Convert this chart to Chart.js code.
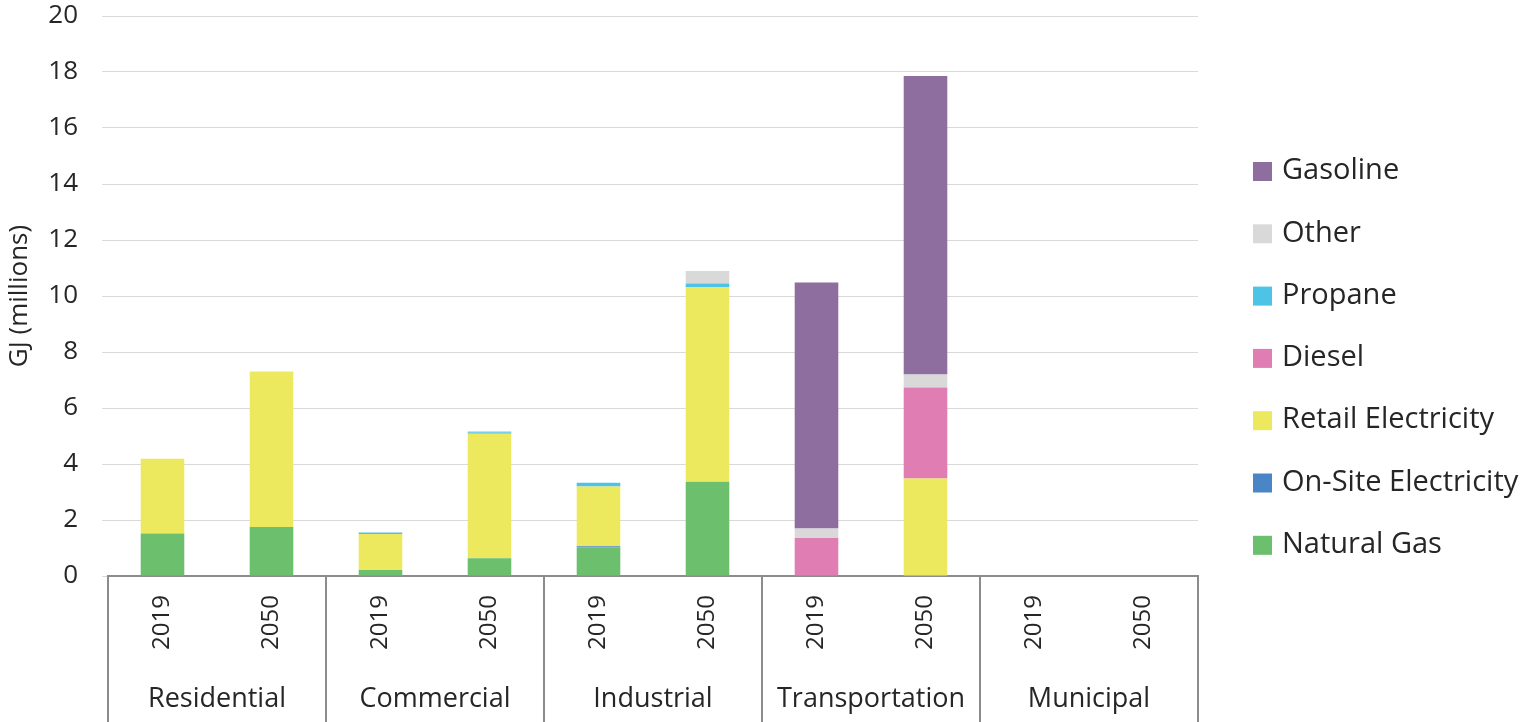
<!DOCTYPE html>
<html>
<head>
<meta charset="utf-8">
<script src="https://cdn.jsdelivr.net/npm/chart.js@4/dist/chart.umd.min.js"></script>
<style>
  html, body { margin: 0; padding: 0; background: #fff; }
  #wrap { width: 1528px; height: 722px; }
</style>
</head>
<body>
<div id="wrap"><canvas id="energia"></canvas></div>
<script>
const sectores = ['Residential', 'Commercial', 'Industrial', 'Transportation', 'Municipal'];
const etiquetas = ['2019', '2050', '2019', '2050', '2019', '2050', '2019', '2050', '2019', '2050'];

const gas_natural   = [1.52, 1.75, 0.21, 0.63, 1.02, 3.37, 0, 0, 0, 0];
const elec_sitio    = [0, 0, 0, 0, 0.04, 0, 0, 0, 0, 0];
const elec_retail   = [2.67, 5.55, 1.29, 4.45, 2.14, 6.95, 0, 3.48, 0, 0];
const diesel        = [0, 0, 0, 0, 0, 0, 1.36, 3.25, 0, 0];
const propano       = [0, 0, 0.05, 0.05, 0.13, 0.13, 0, 0, 0, 0];
const otros         = [0, 0, 0, 0.05, 0, 0.44, 0.34, 0.47, 0, 0];
const gasolina      = [0, 0, 0, 0, 0, 0, 8.78, 10.66, 0, 0];

const fuente = "'Open Sans', sans-serif";

// separadores y nombres de sector debajo del eje
const gruposEje = {
  id: 'gruposEje',
  afterDraw(chart) {
    const { ctx, chartArea, scales: { x } } = chart;
    const paso = x.getPixelForValue(1) - x.getPixelForValue(0);
    ctx.save();
    ctx.strokeStyle = '#8c8c8c';
    ctx.lineWidth = 2;
    for (let g = 0; g <= sectores.length; g++) {
      const px = Math.round(x.getPixelForValue(g * 2) - paso / 2);
      ctx.beginPath();
      ctx.moveTo(px, chartArea.bottom);
      ctx.lineTo(px, chart.height);
      ctx.stroke();
    }
    ctx.fillStyle = '#262626';
    ctx.font = '27px ' + fuente;
    ctx.textAlign = 'center';
    ctx.textBaseline = 'middle';
    sectores.forEach((s, g) => {
      const cx = (x.getPixelForValue(g * 2) + x.getPixelForValue(g * 2 + 1)) / 2;
      ctx.fillText(s, cx, 699);
    });
    ctx.restore();
  }
};

// leyenda a la derecha, orden invertido como en Excel
const leyenda = {
  id: 'leyenda',
  afterDraw(chart) {
    const { ctx, chartArea } = chart;
    const sets = chart.data.datasets.slice().reverse();
    const sep = 62.3;
    const y0 = 171;
    const x0 = chartArea.right + 55;
    ctx.save();
    ctx.font = '29px ' + fuente;
    ctx.textBaseline = 'middle';
    ctx.textAlign = 'left';
    sets.forEach((d, i) => {
      const y = y0 + i * sep;
      ctx.fillStyle = d.backgroundColor;
      ctx.fillRect(x0, y - 9, 19, 19);
      ctx.fillStyle = '#262626';
      ctx.fillText(d.label, x0 + 29, y);
    });
    ctx.restore();
  }
};

const ctx1 = document.getElementById('energia').getContext('2d');

let grafica_energia = new Chart(ctx1, {
  type: 'bar',
  data: {
    labels: etiquetas,
    datasets: [
      { label: 'Natural Gas', data: gas_natural, backgroundColor: '#6cbf6d' },
      { label: 'On-Site Electricity', data: elec_sitio, backgroundColor: '#4a86c5' },
      { label: 'Retail Electricity', data: elec_retail, backgroundColor: '#ede95f' },
      { label: 'Diesel', data: diesel, backgroundColor: '#e07db3' },
      { label: 'Propane', data: propano, backgroundColor: '#4dc4e6' },
      { label: 'Other', data: otros, backgroundColor: '#d9d9d9' },
      { label: 'Gasoline', data: gasolina, backgroundColor: '#8e6d9f' }
    ]
  },
  options: {
    responsive: true,
    maintainAspectRatio: false,
    animation: false,
    layout: { padding: { top: 16, right: 330, left: 0, bottom: 0 } },
    datasets: {
      bar: { categoryPercentage: 1, barPercentage: 0.4 }
    },
    plugins: {
      legend: { display: false },
      tooltip: { enabled: false }
    },
    scales: {
      x: {
        stacked: true,
        afterFit(scale) {
          scale.height = 146;
          scale.paddingLeft = 0;
          scale.paddingRight = 0;
        },
        grid: { display: false, drawTicks: false },
        border: { display: true, color: '#8c8c8c', width: 2 },
        ticks: {
          minRotation: 90,
          maxRotation: 90,
          padding: 19,
          color: '#262626',
          font: { family: fuente, size: 24 }
        }
      },
      y: {
        stacked: true,
        min: 0,
        max: 20,
        afterFit(scale) {
          scale.width = 108;
          scale.paddingTop = 0;
          scale.paddingBottom = 0;
        },
        grid: { color: '#d9d9d9', lineWidth: 1, tickLength: 6 },
        border: { display: false },
        ticks: {
          stepSize: 2,
          padding: 24,
          color: '#262626',
          font: { family: fuente, size: 26 }
        },
        title: {
          display: true,
          text: 'GJ (millions)',
          color: '#262626',
          padding: { top: 4, bottom: 0 },
          font: { family: fuente, size: 26 }
        }
      }
    }
  },
  plugins: [gruposEje, leyenda]
});
</script>
</body>
</html>
